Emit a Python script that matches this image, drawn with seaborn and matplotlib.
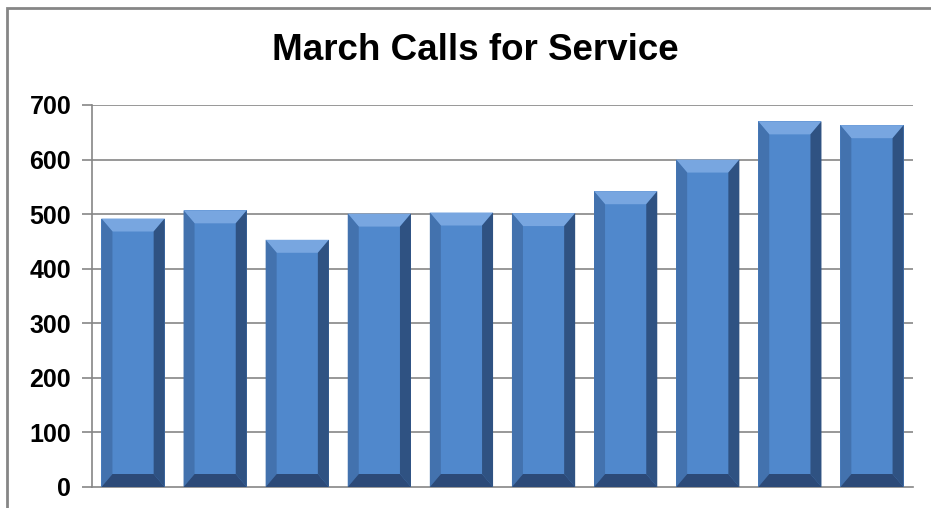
import numpy as np
import pandas as pd
import matplotlib
matplotlib.use("Agg")
import matplotlib.pyplot as plt
import seaborn as sns
from matplotlib.patches import Polygon, Rectangle

# data (x categories have no labels)
days = ["1", "2", "3", "4", "5", "6", "7", "8", "9", "10"]
calls = [492, 507, 453, 501, 503, 502, 542, 600, 670, 663]
y_ticks = [0, 100, 200, 300, 400, 500, 600, 700]

sns.set_style("white")
plt.rcParams["font.family"] = ["Liberation Sans", "DejaVu Sans"]

df = pd.DataFrame({"day": days, "calls": calls})

fig = plt.figure(figsize=(9.31, 5.08), dpi=100)
ax = fig.add_axes([92 / 931, 21 / 508, 821 / 931, 382 / 508])

face = "#5088cc"
sns.barplot(data=df, x="day", y="calls", color=face, width=0.77,
            saturation=1, edgecolor="none", ax=ax, zorder=3)

ax.set_ylim(0, 700)
ax.set_xlim(-0.5, len(days) - 0.5)
ax.set_yticks(y_ticks)
ax.set_yticklabels([str(t) for t in y_ticks], fontsize=18, fontweight="bold",
                   color="black")
ax.set_xticks([])
ax.set_xlabel("")
ax.set_ylabel("")

# grid and axes lines
ax.grid(False)
for t in y_ticks[1:]:
    ax.axhline(t, color="#868686", lw=1.2, zorder=1)
for side in ["top", "right"]:
    ax.spines[side].set_visible(False)
ax.spines["left"].set_color("#868686")
ax.spines["left"].set_linewidth(1.2)
ax.spines["bottom"].set_color("#868686")
ax.spines["bottom"].set_linewidth(1.2)
ax.tick_params(axis="y", left=True, length=7, width=1.2, color="#868686",
               pad=8)

# bevel look on each bar, built from the bar patches themselves
fig.canvas.draw()
bbox = ax.get_window_extent()
px_x = (ax.get_xlim()[1] - ax.get_xlim()[0]) / bbox.width
px_y = (ax.get_ylim()[1] - ax.get_ylim()[0]) / bbox.height
bx, by = 11 * px_x, 13 * px_y
for p in ax.patches:
    x0, y0 = p.get_x(), p.get_y()
    x1, y1 = x0 + p.get_width(), y0 + p.get_height()
    pieces = [
        ([(x0, y1), (x1, y1), (x1 - bx, y1 - by), (x0 + bx, y1 - by)], "#78a6e0"),
        ([(x1, y1), (x1, y0), (x1 - bx, y0 + by), (x1 - bx, y1 - by)], "#2f5282"),
        ([(x0, y1), (x0, y0), (x0 + bx, y0 + by), (x0 + bx, y1 - by)], "#4372ae"),
        ([(x0, y0), (x1, y0), (x1 - bx, y0 + by), (x0 + bx, y0 + by)], "#2c4a78"),
    ]
    for pts, c in pieces:
        ax.add_patch(Polygon(pts, closed=True, facecolor=c, edgecolor="none", zorder=4))

fig.text(475 / 931, 1 - 51 / 508, "March Calls for Service", ha="center", va="center",
         fontsize=26.5, fontweight="bold", color="black")

# outer chart frame (only top and left edges fall inside the picture)
fig.patches.append(Rectangle((7 / 931, -0.1), 1.1, 1 - 8 / 508 + 0.1,
                             transform=fig.transFigure, fill=False,
                             edgecolor="#868686", lw=2))

fig.savefig("out.png", dpi=100)
